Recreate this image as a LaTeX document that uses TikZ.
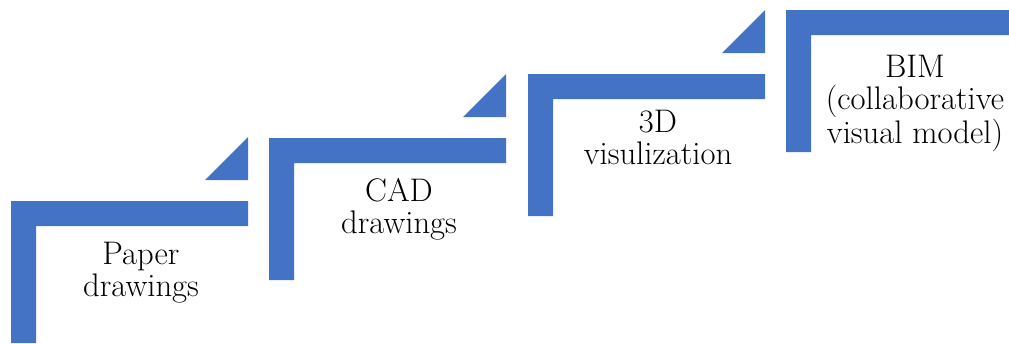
\documentclass[tikz,border=0pt]{standalone}
\definecolor{stepblue}{HTML}{4472C4}
\begin{document}
\begin{tikzpicture}[x=0.75pt,y=-0.75pt,
  stepshape/.style={fill=stepblue,draw=none},
  steplabel/.style={anchor=north,align=center,inner sep=0pt,font=\rmfamily\fontsize{24.5}{24.2}\selectfont}]
\useasboundingbox (0,0) rectangle (1009,343);
\clip (0,0) rectangle (1009,343);
\foreach \L/\T in {11/201, 269/138, 528/74, 786/10} {
  \fill[stepshape] (\L,\T+142) -- (\L,\T) -- (\L+237,\T) -- (\L+237,\T+25) -- (\L+25,\T+25) -- (\L+25,\T+142) -- cycle;
  \fill[stepshape] (\L+194,\T-21) -- (\L+237,\T-21) -- (\L+237,\T-64) -- cycle;
}
\node[steplabel] (paper) at (141,242) {Paper\\drawings};
\node[steplabel] (cad) at (399,178) {CAD\\drawings};
\node[steplabel] (viz) at (658,110) {3D\\visulization};
\node[steplabel] (bim) at (915,55) {BIM\\(collaborative\\visual model)};
\end{tikzpicture}
\end{document}
